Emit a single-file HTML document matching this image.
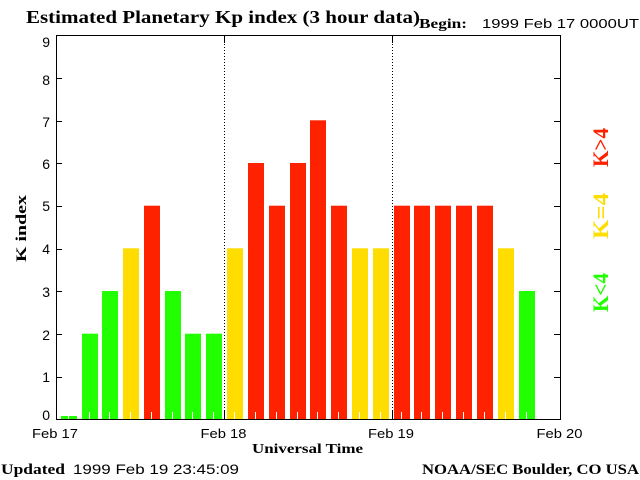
<!DOCTYPE html>
<html>
<head>
<meta charset="utf-8">
<style>
html,body{margin:0;padding:0;background:#fff;}
svg{display:block;}
.serif{font-family:"Liberation Serif",serif;font-weight:bold;}
.sans{font-family:"Liberation Sans",sans-serif;}
</style>
</head>
<body>
<svg width="640" height="480" viewBox="0 0 640 480" xmlns="http://www.w3.org/2000/svg">
<rect width="640" height="480" fill="#fff"/>

<!-- Title -->
<text class="serif" x="26" y="23" font-size="18" textLength="394" lengthAdjust="spacingAndGlyphs">Estimated Planetary Kp index (3 hour data)</text>
<text class="serif" x="419" y="28" font-size="14" textLength="48" lengthAdjust="spacingAndGlyphs">Begin:</text>
<text class="sans" x="482" y="28" font-size="13" textLength="157" lengthAdjust="spacingAndGlyphs">1999 Feb 17 0000UT</text>

<!-- Bars -->
<g id="bars"></g>
<g>
<rect x="61" y="416" width="16" height="3" fill="#22ff00"/>
<rect x="82" y="333.7" width="16" height="85.3" fill="#22ff00"/>
<rect x="102" y="291" width="16" height="128" fill="#22ff00"/>
<rect x="123" y="248.3" width="16" height="170.7" fill="#ffdd00"/>
<rect x="144" y="205.7" width="16" height="213.3" fill="#ff2200"/>
<rect x="165" y="291" width="16" height="128" fill="#22ff00"/>
<rect x="185" y="333.7" width="16" height="85.3" fill="#22ff00"/>
<rect x="206" y="333.7" width="16" height="85.3" fill="#22ff00"/>
<rect x="227" y="248.3" width="16" height="170.7" fill="#ffdd00"/>
<rect x="248" y="163" width="16" height="256" fill="#ff2200"/>
<rect x="269" y="205.7" width="16" height="213.3" fill="#ff2200"/>
<rect x="290" y="163" width="16" height="256" fill="#ff2200"/>
<rect x="310" y="120.3" width="16" height="298.7" fill="#ff2200"/>
<rect x="331" y="205.7" width="16" height="213.3" fill="#ff2200"/>
<rect x="352" y="248.3" width="16" height="170.7" fill="#ffdd00"/>
<rect x="373" y="248.3" width="16" height="170.7" fill="#ffdd00"/>
<rect x="394" y="205.7" width="16" height="213.3" fill="#ff2200"/>
<rect x="414" y="205.7" width="16" height="213.3" fill="#ff2200"/>
<rect x="435" y="205.7" width="16" height="213.3" fill="#ff2200"/>
<rect x="456" y="205.7" width="16" height="213.3" fill="#ff2200"/>
<rect x="477" y="205.7" width="16" height="213.3" fill="#ff2200"/>
<rect x="498" y="248.3" width="16" height="170.7" fill="#ffdd00"/>
<rect x="519" y="291" width="16" height="128" fill="#22ff00"/>
</g>
<!-- white ticks inside bars -->
<g fill="#fff">
<rect x="68" y="412" width="1" height="7"/>
<rect x="89" y="412" width="1" height="7"/>
<rect x="109" y="412" width="1" height="7"/>
<rect x="130" y="412" width="1" height="7"/>
<rect x="151" y="412" width="1" height="7"/>
<rect x="172" y="412" width="1" height="7"/>
<rect x="192" y="412" width="1" height="7"/>
<rect x="213" y="412" width="1" height="7"/>
<rect x="234" y="412" width="1" height="7"/>
<rect x="255" y="412" width="1" height="7"/>
<rect x="276" y="412" width="1" height="7"/>
<rect x="297" y="412" width="1" height="7"/>
<rect x="317" y="412" width="1" height="7"/>
<rect x="338" y="412" width="1" height="7"/>
<rect x="359" y="412" width="1" height="7"/>
<rect x="380" y="412" width="1" height="7"/>
<rect x="401" y="412" width="1" height="7"/>
<rect x="421" y="412" width="1" height="7"/>
<rect x="442" y="412" width="1" height="7"/>
<rect x="463" y="412" width="1" height="7"/>
<rect x="484" y="412" width="1" height="7"/>
<rect x="505" y="412" width="1" height="7"/>
<rect x="526" y="412" width="1" height="7"/>
</g>

<!-- Day separators -->
<g stroke="#000" stroke-width="1">
<line x1="224.5" y1="35" x2="224.5" y2="419" stroke-dasharray="1 2"/>
<line x1="392.5" y1="35" x2="392.5" y2="419" stroke-dasharray="1 2"/>
<line x1="224.5" y1="35" x2="224.5" y2="43"/>
<line x1="392.5" y1="35" x2="392.5" y2="43"/>
<line x1="224.5" y1="411" x2="224.5" y2="420"/>
<line x1="392.5" y1="411" x2="392.5" y2="420"/>
</g>

<!-- Frame -->
<rect x="56.5" y="35.5" width="504" height="384" fill="none" stroke="#000" stroke-width="1"/>

<!-- Y ticks -->
<g stroke="#000" stroke-width="1">
<line x1="56" y1="78.5" x2="62" y2="78.5"/><line x1="554" y1="78.5" x2="560" y2="78.5"/>
<line x1="56" y1="121.5" x2="62" y2="121.5"/><line x1="554" y1="121.5" x2="560" y2="121.5"/>
<line x1="56" y1="163.5" x2="62" y2="163.5"/><line x1="554" y1="163.5" x2="560" y2="163.5"/>
<line x1="56" y1="206.5" x2="62" y2="206.5"/><line x1="554" y1="206.5" x2="560" y2="206.5"/>
<line x1="56" y1="249.5" x2="62" y2="249.5"/><line x1="554" y1="249.5" x2="560" y2="249.5"/>
<line x1="56" y1="291.5" x2="62" y2="291.5"/><line x1="554" y1="291.5" x2="560" y2="291.5"/>
<line x1="56" y1="334.5" x2="62" y2="334.5"/><line x1="554" y1="334.5" x2="560" y2="334.5"/>
<line x1="56" y1="377.5" x2="62" y2="377.5"/><line x1="554" y1="377.5" x2="560" y2="377.5"/>
</g>

<!-- Y labels -->
<g class="sans" font-size="14" text-anchor="end" fill="#000">
<text x="50" y="47">9</text>
<text x="50" y="85">8</text>
<text x="50" y="127">7</text>
<text x="50" y="169">6</text>
<text x="50" y="211">5</text>
<text x="50" y="254">4</text>
<text x="50" y="297">3</text>
<text x="50" y="340">2</text>
<text x="50" y="382">1</text>
<text x="50" y="420">0</text>
</g>

<!-- Y axis title -->
<text class="serif" font-size="15" text-anchor="middle" textLength="67" lengthAdjust="spacingAndGlyphs" transform="translate(26,228.5) rotate(-90)">K index</text>

<!-- X labels -->
<g class="sans" font-size="13" text-anchor="middle">
<text x="55" y="438" textLength="46" lengthAdjust="spacingAndGlyphs">Feb 17</text>
<text x="223.5" y="438" textLength="46" lengthAdjust="spacingAndGlyphs">Feb 18</text>
<text x="391" y="438" textLength="46" lengthAdjust="spacingAndGlyphs">Feb 19</text>
<text x="559.5" y="438" textLength="46" lengthAdjust="spacingAndGlyphs">Feb 20</text>
</g>
<text class="serif" x="252" y="453" font-size="14" textLength="111" lengthAdjust="spacingAndGlyphs">Universal Time</text>

<!-- Legend -->
<text class="serif" font-size="22" fill="#ff2200" text-anchor="middle" textLength="39" lengthAdjust="spacingAndGlyphs" transform="translate(608,147.5) rotate(-90)">K&gt;4</text>
<text class="serif" font-size="22" fill="#ffdd00" text-anchor="middle" textLength="46" lengthAdjust="spacingAndGlyphs" transform="translate(608,216) rotate(-90)">K=4</text>
<text class="serif" font-size="22" fill="#22ff00" text-anchor="middle" textLength="39" lengthAdjust="spacingAndGlyphs" transform="translate(608,292.5) rotate(-90)">K&lt;4</text>

<!-- Footer -->
<text class="serif" x="1" y="474" font-size="15" textLength="64" lengthAdjust="spacingAndGlyphs">Updated</text>
<text class="sans" x="73" y="474" font-size="14" textLength="166" lengthAdjust="spacingAndGlyphs">1999 Feb 19 23:45:09</text>
<text class="serif" x="422" y="474" font-size="15" textLength="217" lengthAdjust="spacingAndGlyphs">NOAA/SEC Boulder, CO USA</text>
</svg>
</body>
</html>
